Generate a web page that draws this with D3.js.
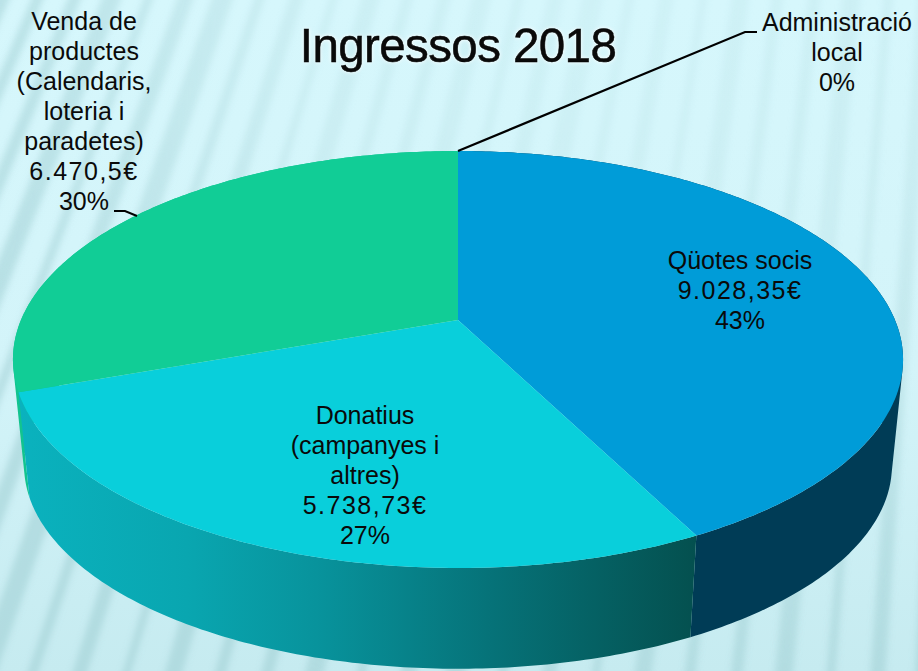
<!DOCTYPE html>
<html><head><meta charset="utf-8">
<script src="https://cdn.jsdelivr.net/npm/d3@7"></script>
<style>html,body{margin:0;padding:0;overflow:hidden;background:#d2f4f9}svg{display:block}text{font-family:"Liberation Sans",sans-serif;fill:#0a0a0a}</style>
</head><body><svg id="c" width="918" height="671"></svg>
<script>
const categories=["Qüotes socis","Donatius (campanyes i altres)","Venda de productes (Calendaris, loteria i paradetes)","Administració local"];
const values=[9028.35,5738.73,6470.5,0];
const topColors=["#009cd8","#09cfdb","#11cd96","#888888"];
const sideColors=["#003c56",null,"#12c48f","#888888"];
const labelLines=[["Qüotes socis","9.028,35€","43%"],["Donatius","(campanyes i","altres)","5.738,73€","27%"],["Venda de","productes","(Calendaris,","loteria i","paradetes)","6.470,5€","30%"],["Administració","local","0%"]];
const labelAnchors=[[740,260],[365,415],[84,21],[837,22]];
const title="Ingressos 2018";
const stripeWidths=[12,18,9,15,20,10,14,8,17,11];

const W=918,H=671,svg=d3.select("#c");
const defs=svg.append("defs");
const bg=defs.append("linearGradient").attr("id","bg").attr("x1",0).attr("x2",0).attr("y1",0).attr("y2",1);
[[0,"#d6f7fc"],[.55,"#d3f4f9"],[1,"#c6ebf0"]].forEach(s=>bg.append("stop").attr("offset",s[0]).attr("stop-color",s[1]));
svg.append("rect").attr("width",W).attr("height",H).attr("fill","url(#bg)");
defs.append("filter").attr("id","blur").attr("x","-10%").attr("y","-10%").attr("width","120%").attr("height","120%").append("feGaussianBlur").attr("stdDeviation",3);
const rg=defs.append("radialGradient").attr("id","fade").attr("gradientUnits","userSpaceOnUse").attr("cx",620).attr("cy",40).attr("r",700);
[[0,"#333"],[.45,"#555"],[.8,"#ccc"],[1,"#fff"]].forEach(s=>rg.append("stop").attr("offset",s[0]).attr("stop-color",s[1]));
defs.append("mask").attr("id","m").attr("maskUnits","userSpaceOnUse").attr("x",0).attr("y",0).attr("width",W).attr("height",H)
  .append("rect").attr("width",W).attr("height",H).attr("fill","url(#fade)");
const stripeG=svg.append("g").attr("mask","url(#m)").append("g").attr("filter","url(#blur)");
const vx=1100,vy=-2500;
for(let i=-8;i<32;i++){
  const x0=i*37, x=y=>vx+(x0-vx)*(y-vy)/(0-vy);
  stripeG.append("line").attr("x1",x(-20)).attr("y1",-20).attr("x2",x(700)).attr("y2",700)
    .attr("stroke","#a3d0d6").attr("stroke-opacity",.6).attr("stroke-width",stripeWidths[(i+8)%stripeWidths.length]);
}
const cx=458,cy=320,a=201,b=437,k=0.1894,depth=107,s=0.975;
const proj=(t,low)=>{const u=Math.sin(t),v=Math.cos(t),d=1+k*v,f=low?s:1;
  return [cx+f*b*u/d,cy+(low?depth:0)-f*a*v/d];};
const pie=d3.pie().sort(null).value(d=>d);
const arcs=pie(values);
const rim=(d,low)=>{const n=Math.max(2,Math.ceil((d.endAngle-d.startAngle)*80));
  return d3.range(n+1).map(i=>proj(d.startAngle+(d.endAngle-d.startAngle)*i/n,low));};
const line=d3.line();
const g=defs.append("linearGradient").attr("id","side").attr("gradientUnits","userSpaceOnUse").attr("x1",18).attr("x2",696).attr("y1",0).attr("y2",0);
[[0,"#0ab2be"],[.25,"#09a6b0"],[.45,"#08929b"],[.7,"#067278"],[1,"#04504f"]].forEach(t=>g.append("stop").attr("offset",t[0]).attr("stop-color",t[1]));
[2,0,1].forEach(i=>{const d=arcs[i],up=rim(d,false),lo=rim(d,true);let p="";
  for(let j=0;j<up.length-1;j++){
    let q=[up[j],up[j+1],lo[j+1],lo[j]];
    if(d3.polygonArea(q)<0) q.reverse();
    p+=line(q)+"Z";
  }
  svg.append("path").attr("d",p).attr("fill",sideColors[i]||"url(#side)");});
arcs.forEach((d,i)=>{ if(d.endAngle-d.startAngle<1e-6) return;
  svg.append("path").attr("d",line([[cx,cy]].concat(rim(d,false)))+"Z").attr("fill",topColors[i]);});
labelLines.forEach((ls,i)=>{const t=svg.append("text").attr("text-anchor","middle").attr("font-size",25);
  ls.forEach((l,j)=>t.append("tspan").attr("x",labelAnchors[i][0]).attr("y",labelAnchors[i][1]+j*30).attr("dy","0.35em")
    .attr("letter-spacing",l.includes("€")?1.5:null).text(l));});
const adminPt=proj(arcs[3].startAngle,false);
svg.append("path").attr("d",line([adminPt,[745,32],[757,32]])).attr("fill","none").attr("stroke","#000").attr("stroke-width",2.2);
svg.append("path").attr("d",line([[114,211],[125,211],[137,216]])).attr("fill","none").attr("stroke","#000").attr("stroke-width",2);
svg.append("text").attr("x",458).attr("y",62).attr("text-anchor","middle").attr("font-size",47.5).attr("letter-spacing",-0.6)
  .attr("stroke","#000").attr("stroke-width",.5).style("filter","drop-shadow(0 0 2px #fff)").text(title);
</script></body></html>
